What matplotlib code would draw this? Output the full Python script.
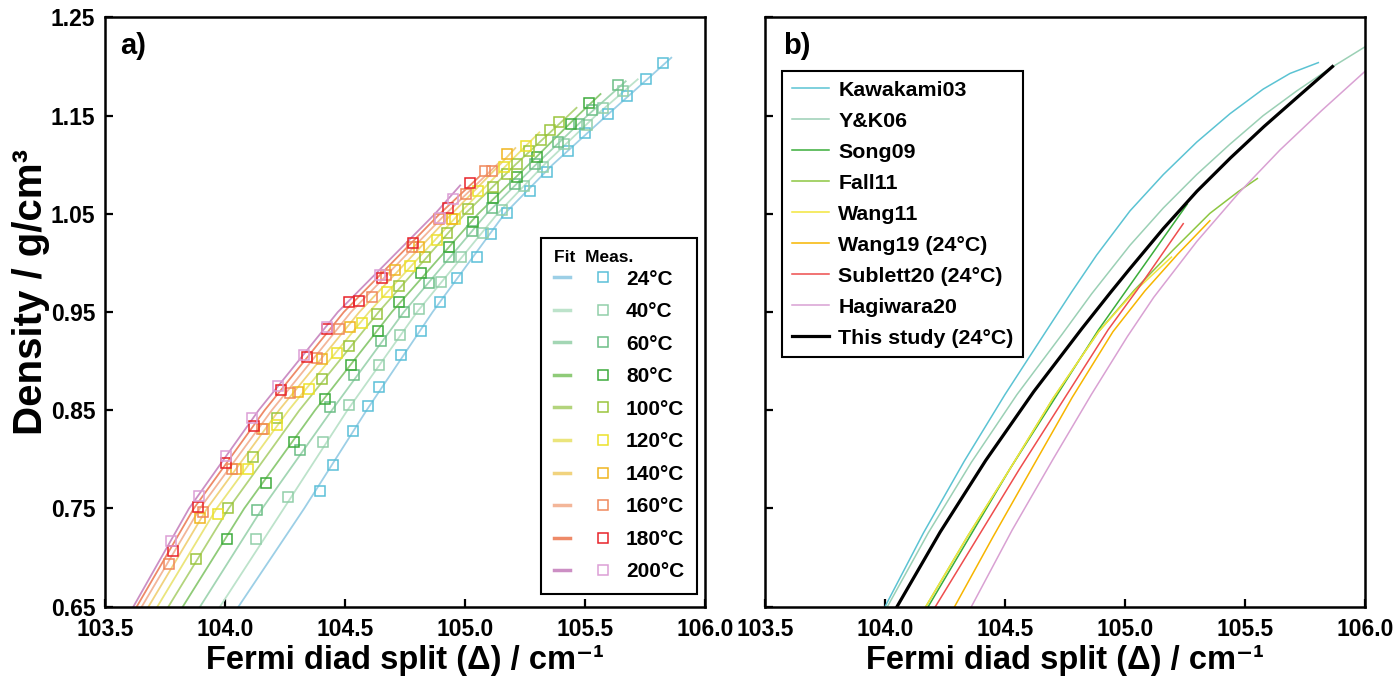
import matplotlib
matplotlib.use("Agg")
import matplotlib.pyplot as plt
from matplotlib.lines import Line2D
from matplotlib.legend_handler import HandlerTuple

plt.rcParams['font.family'] = ['Liberation Sans', 'DejaVu Sans']
plt.rcParams['font.weight'] = 'bold'

# ---- panel a: fit curves (delta, density) ----
temps = ['24°C', '40°C', '60°C', '80°C', '100°C', '120°C', '140°C', '160°C', '180°C', '200°C']

fit24 = [(104.056, 0.65), (104.33, 0.75), (104.59, 0.85), (104.865, 0.95), (105.165, 1.05), (105.365, 1.10), (105.59, 1.15), (105.86, 1.209)]
fit40 = [(103.979, 0.65), (104.245, 0.75), (104.51, 0.85), (104.80, 0.95), (105.135, 1.05), (105.33, 1.10), (105.545, 1.15), (105.72, 1.187)]
fit60 = [(103.896, 0.65), (104.155, 0.75), (104.445, 0.85), (104.745, 0.95), (105.09, 1.05), (105.295, 1.10), (105.51, 1.15), (105.67, 1.185)]
fit80 = [(103.824, 0.65), (104.08, 0.75), (104.375, 0.85), (104.695, 0.95), (105.055, 1.05), (105.265, 1.10), (105.47, 1.15), (105.565, 1.172)]
fit100 = [(103.764, 0.65), (104.015, 0.75), (104.31, 0.85), (104.64, 0.95), (105.0, 1.05), (105.21, 1.10), (105.43, 1.15), (105.465, 1.158)]
fit120 = [(103.718, 0.65), (103.965, 0.75), (104.265, 0.85), (104.60, 0.95), (104.975, 1.05), (105.175, 1.10), (105.31, 1.133)]
fit140 = [(103.681, 0.65), (103.925, 0.75), (104.225, 0.85), (104.56, 0.95), (104.945, 1.05), (105.145, 1.10), (105.21, 1.117)]
fit160 = [(103.653, 0.65), (103.895, 0.75), (104.195, 0.85), (104.525, 0.95), (104.92, 1.05), (105.146, 1.103)]
fit180 = [(103.632, 0.65), (103.87, 0.75), (104.165, 0.85), (104.495, 0.95), (104.895, 1.05), (105.06, 1.088)]
fit200 = [(103.618, 0.65), (103.85, 0.75), (104.14, 0.85), (104.47, 0.95), (104.875, 1.05), (104.98, 1.079)]

# ---- panel a: measured points ----
meas24 = [(104.397, 0.768), (104.451, 0.794), (104.535, 0.829), (104.597, 0.854), (104.643, 0.874), (104.733, 0.906),
          (104.817, 0.931), (104.896, 0.960), (104.968, 0.985), (105.049, 1.006), (105.107, 1.030), (105.176, 1.051),
          (105.271, 1.073), (105.340, 1.093), (105.428, 1.114), (105.500, 1.132), (105.597, 1.152), (105.676, 1.170),
          (105.754, 1.187), (105.826, 1.204)]
meas40 = [(104.128, 0.719), (104.263, 0.762), (104.407, 0.818), (104.517, 0.855), (104.640, 0.896), (104.728, 0.927),
          (104.807, 0.953), (104.899, 0.981), (104.982, 1.006), (105.076, 1.031), (105.153, 1.054), (105.246, 1.078),
          (105.326, 1.098), (105.414, 1.121), (105.507, 1.140), (105.574, 1.158), (105.660, 1.175)]
meas60 = [(104.135, 0.748), (104.314, 0.810), (104.439, 0.853), (104.536, 0.886), (104.649, 0.921), (104.744, 0.950),
          (104.851, 0.980), (104.935, 1.006), (105.028, 1.033), (105.111, 1.056), (105.208, 1.080), (105.292, 1.101),
          (105.386, 1.123), (105.476, 1.142), (105.529, 1.156), (105.639, 1.181)]
meas80 = [(104.007, 0.719), (104.169, 0.776), (104.289, 0.818), (104.418, 0.861), (104.524, 0.896), (104.636, 0.931),
          (104.725, 0.960), (104.817, 0.990), (104.933, 1.016), (105.032, 1.042), (105.118, 1.066), (105.215, 1.088),
          (105.301, 1.108), (105.440, 1.142), (105.519, 1.163)]
meas100 = [(103.881, 0.699), (104.013, 0.750), (104.118, 0.802), (104.215, 0.842), (104.406, 0.882), (104.517, 0.915),
           (104.632, 0.948), (104.726, 0.977), (104.833, 1.006), (104.924, 1.031), (105.014, 1.055), (105.115, 1.077),
           (105.174, 1.091), (105.215, 1.101), (105.268, 1.114), (105.315, 1.125), (105.354, 1.135), (105.393, 1.144)]
meas120 = [(103.969, 0.744), (104.096, 0.790), (104.217, 0.835), (104.349, 0.872), (104.467, 0.908), (104.571, 0.939),
           (104.676, 0.970), (104.771, 0.997), (104.885, 1.023), (104.958, 1.045), (105.056, 1.073), (105.163, 1.098),
           (105.254, 1.119)]
meas140 = [(103.894, 0.740), (104.044, 0.790), (104.161, 0.831), (104.303, 0.869), (104.406, 0.902), (104.522, 0.935),
           (104.708, 0.993), (104.810, 1.016), (104.944, 1.045), (105.176, 1.111)]
meas160 = [(103.768, 0.693), (103.910, 0.746), (104.029, 0.790), (104.156, 0.831), (104.271, 0.868), (104.385, 0.903),
           (104.474, 0.933), (104.611, 0.965), (104.671, 0.988), (104.778, 1.016), (104.893, 1.045), (105.004, 1.070),
           (105.083, 1.094), (105.111, 1.094)]
meas180 = [(103.782, 0.707), (103.886, 0.752), (104.003, 0.796), (104.122, 0.834), (104.233, 0.871), (104.340, 0.904),
           (104.424, 0.933), (104.518, 0.960), (104.560, 0.961), (104.653, 0.985), (104.785, 1.020), (104.931, 1.056),
           (105.021, 1.081)]
meas200 = [(103.775, 0.717), (103.892, 0.763), (104.006, 0.803), (104.111, 0.842), (104.219, 0.875), (104.329, 0.906),
           (104.424, 0.935), (104.646, 0.988), (104.896, 1.046), (104.949, 1.065)]

fits = [fit24, fit40, fit60, fit80, fit100, fit120, fit140, fit160, fit180, fit200]
meas = [meas24, meas40, meas60, meas80, meas100, meas120, meas140, meas160, meas180, meas200]

fit_colors = ['#9ccfe6', '#bde3cb', '#a3d6b4', '#8fcb78', '#b3d47c',
              '#ebe57c', '#f1d37e', '#f3b699', '#ee8a68', '#cc8fc4']
meas_colors = ['#5bc0d8', '#92cfa9', '#6cbf86', '#3dab3c', '#9bc53d',
               '#ece22a', '#f0b51f', '#f0895c', '#e8232a', '#dc9fd6']

# ---- panel b: equations from the literature ----
kawakami03 = [(104.00, 0.65), (104.16, 0.725), (104.33, 0.798), (104.50, 0.866), (104.67, 0.930), (104.778, 0.9705),
              (104.882, 1.008), (105.021, 1.053), (105.160, 1.090), (105.299, 1.123), (105.438, 1.152), (105.576, 1.177),
              (105.688, 1.193), (105.806, 1.204)]
yk06 = [(104.01, 0.65), (104.18, 0.725), (104.36, 0.797), (104.55, 0.866), (104.74, 0.928), (104.861, 0.9685),
        (105.021, 1.018), (105.160, 1.056), (105.299, 1.090), (105.438, 1.121), (105.576, 1.150), (105.715, 1.175),
        (105.854, 1.198), (106.0, 1.220)]
song09 = [(104.18, 0.65), (104.52, 0.79), (104.89, 0.932), (105.007, 0.9725), (105.26, 1.060)]
fall11 = [(104.17, 0.65), (104.345, 0.722), (104.52, 0.79), (104.70, 0.862), (104.89, 0.930), (105.04, 0.9725),
          (105.20, 1.013), (105.354, 1.0505), (105.472, 1.0726), (105.552, 1.086)]
wang11 = [(104.17, 0.65), (104.345, 0.722), (104.52, 0.79), (104.70, 0.862), (104.89, 0.930), (105.04, 0.971),
          (105.194, 1.006)]
wang19 = [(104.29, 0.65), (104.45, 0.721), (104.61, 0.79), (104.78, 0.863), (104.95, 0.930), (105.083, 0.9715),
          (105.22, 1.009), (105.354, 1.043)]
sublett20 = [(104.21, 0.65), (104.56, 0.79), (104.93, 0.932), (105.051, 0.9725), (105.243, 1.040)]
hagiwara20 = [(104.36, 0.65), (104.53, 0.728), (104.70, 0.800), (104.86, 0.866), (105.01, 0.925), (105.12, 0.965),
              (105.30, 1.022), (105.472, 1.0706), (105.646, 1.115), (105.819, 1.155), (106.0, 1.195)]
this_study = [(104.05, 0.65), (104.23, 0.726), (104.42, 0.799), (104.62, 0.869), (104.82, 0.933), (104.94, 0.970),
              (105.02, 0.994), (105.16, 1.035), (105.30, 1.073), (105.44, 1.107), (105.58, 1.139), (105.715, 1.168),
              (105.865, 1.200)]

lit_names = ['Kawakami03', 'Y&K06', 'Song09', 'Fall11', 'Wang11', 'Wang19 (24°C)',
             'Sublett20 (24°C)', 'Hagiwara20', 'This study (24°C)']
lit_curves = [kawakami03, yk06, song09, fall11, wang11, wang19, sublett20, hagiwara20, this_study]
lit_colors = ['#5bc3d3', '#9bd0b5', '#3aad3a', '#8dc641', '#f2e63c', '#f7b500',
              '#ee4d4d', '#d9a1d3', 'black']

fig = plt.figure(figsize=(13.95, 6.79), dpi=100)
ax1 = fig.add_axes([0.0753, 0.1065, 0.430, 0.8678])
ax2 = fig.add_axes([0.5484, 0.1065, 0.430, 0.8678])

handles = []
for f, m, fc, mc in zip(fits, meas, fit_colors, meas_colors):
    ax1.plot([p[0] for p in f], [p[1] for p in f], color=fc, lw=1.3, zorder=2)
    ax1.plot([p[0] for p in m], [p[1] for p in m], 's', ms=6.5, mfc='none', mec=mc, mew=1.1, zorder=3)
    lh = Line2D([], [], color=fc, lw=2.5)
    mh = Line2D([], [], ls='none', marker='s', ms=6.5, mfc='none', mec=mc, mew=1.1)
    handles.append((lh, mh))

leg1 = ax1.legend(handles, temps, handler_map={tuple: HandlerTuple(ndivide=None, pad=1.23)},
                  title='Fit  Meas.', alignment='left', loc='lower right',
                  bbox_to_anchor=(0.9867, 0.0216), borderaxespad=0,
                  title_fontproperties={'weight': 'bold', 'size': 12.5},
                  prop={'weight': 'bold', 'size': 15}, handlelength=2.76, handletextpad=0.7,
                  labelspacing=0.65, borderpad=0.6,
                  fancybox=False, edgecolor='black', framealpha=1)
leg1.get_frame().set_linewidth(1.5)
leg1._legend_box.sep = 3

for c, col, name in zip(lit_curves, lit_colors, lit_names):
    lw = 2.3 if col == 'black' else 1.1
    ax2.plot([p[0] for p in c], [p[1] for p in c], color=col, lw=lw, label=name)

leg2 = ax2.legend(loc='upper left', bbox_to_anchor=(0.0283, 0.909), borderaxespad=0,
                  prop={'weight': 'bold', 'size': 15.4},
                  handlelength=1.75, handletextpad=0.43, labelspacing=0.56, borderpad=0.45,
                  fancybox=False, edgecolor='black', framealpha=1)
leg2.get_frame().set_linewidth(1.5)

for ax in (ax1, ax2):
    ax.set_xlim(103.5, 106.0)
    ax.set_ylim(0.65, 1.25)
    ax.set_xticks([103.5, 104.0, 104.5, 105.0, 105.5, 106.0])
    ax.set_xticklabels(['103.5', '104.0', '104.5', '105.0', '105.5', '106.0'])
    ax.set_yticks([0.65, 0.75, 0.85, 0.95, 1.05, 1.15, 1.25])
    ax.tick_params(direction='in', length=6, width=1.6, labelsize=16.5)
    ax.tick_params(axis='x', pad=8)
    ax.tick_params(axis='y', pad=7)
    for s in ax.spines.values():
        s.set_linewidth(1.8)
    for lab in ax.get_xticklabels() + ax.get_yticklabels():
        lab.set_fontweight('bold')
    ax.set_xlabel('Fermi diad split (Δ) / cm⁻¹', fontsize=23.5, fontweight='bold', labelpad=3)

ax1.set_yticklabels(['0.65', '0.75', '0.85', '0.95', '1.05', '1.15', '1.25'])
ax2.set_yticklabels([])
ax1.set_ylabel('Density / g/cm³', fontsize=29, fontweight='bold')
ax1.yaxis.set_label_coords(-0.092, 0.534)

ax1.text(0.025, 0.975, 'a)', transform=ax1.transAxes, fontsize=21, fontweight='bold', va='top')
ax2.text(0.03, 0.975, 'b)', transform=ax2.transAxes, fontsize=21, fontweight='bold', va='top')

fig.savefig('out.png', dpi=100)
